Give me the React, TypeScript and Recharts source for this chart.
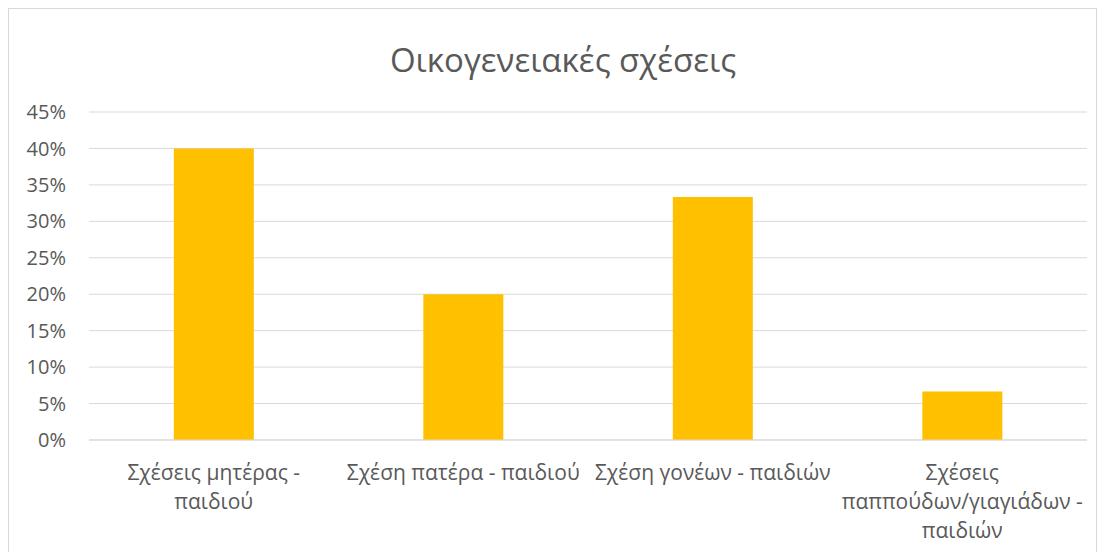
import React from "react";
import { BarChart, Bar, XAxis, YAxis, CartesianGrid } from "recharts";

const title = "Οικογενειακές σχέσεις";
const categories = [
  "Σχέσεις μητέρας -\nπαιδιού",
  "Σχέση πατέρα - παιδιού",
  "Σχέση γονέων - παιδιών",
  "Σχέσεις\nπαππούδων/γιαγιάδων -\nπαιδιών",
];
const values = [0.4, 0.2, 0.3333, 0.0667];
const yTicks = [0, 0.05, 0.1, 0.15, 0.2, 0.25, 0.3, 0.35, 0.4, 0.45];

const data = categories.map((c, i) => ({ name: c, value: values[i] }));

const FONT = "'Open Sans', 'Noto Sans', sans-serif";
const TEXT = "#595959";

const XTick = (props: any) => {
  const { x, y, payload } = props;
  const lines = String(payload.value).split("\n");
  return (
    <g>
      {lines.map((l, i) => (
        <text
          key={i}
          x={x}
          y={y + 32 + i * 29}
          textAnchor="middle"
          fill={TEXT}
          fontSize={21}
          fontFamily={FONT}
        >
          {l}
        </text>
      ))}
    </g>
  );
};

export default function App() {
  return (
    <div
      style={{
        width: 1089,
        height: 545,
        border: "1px solid #d9d9d9",
        boxSizing: "border-box",
        background: "#fff",
        position: "relative",
      }}
    >
      <BarChart
        width={1087}
        height={543}
        data={data}
        margin={{ top: 103, right: 9, bottom: 0, left: 2 }}
        barCategoryGap="34%"
      >
        <text
          x={554}
          y={63}
          textAnchor="middle"
          fill={TEXT}
          fontSize={33}
          fontFamily={FONT}
        >
          {title}
        </text>
        <CartesianGrid vertical={false} stroke="#d9d9d9" strokeWidth={1} />
        <XAxis
          dataKey="name"
          axisLine={{ stroke: "#d9d9d9" }}
          tickLine={false}
          interval={0}
          tick={<XTick />}
          height={112}
        />
        <YAxis
          width={78}
          domain={[0, 0.45]}
          ticks={yTicks}
          interval={0}
          tickFormatter={(v: number) => `${Math.round(v * 100)}%`}
          axisLine={false}
          tickLine={false}
          tickSize={0}
          tickMargin={23}
          tick={{ fill: TEXT, fontSize: 20, fontFamily: FONT }}
        />
        <Bar dataKey="value" fill="#FFC000" isAnimationActive={false} />
      </BarChart>
    </div>
  );
}
